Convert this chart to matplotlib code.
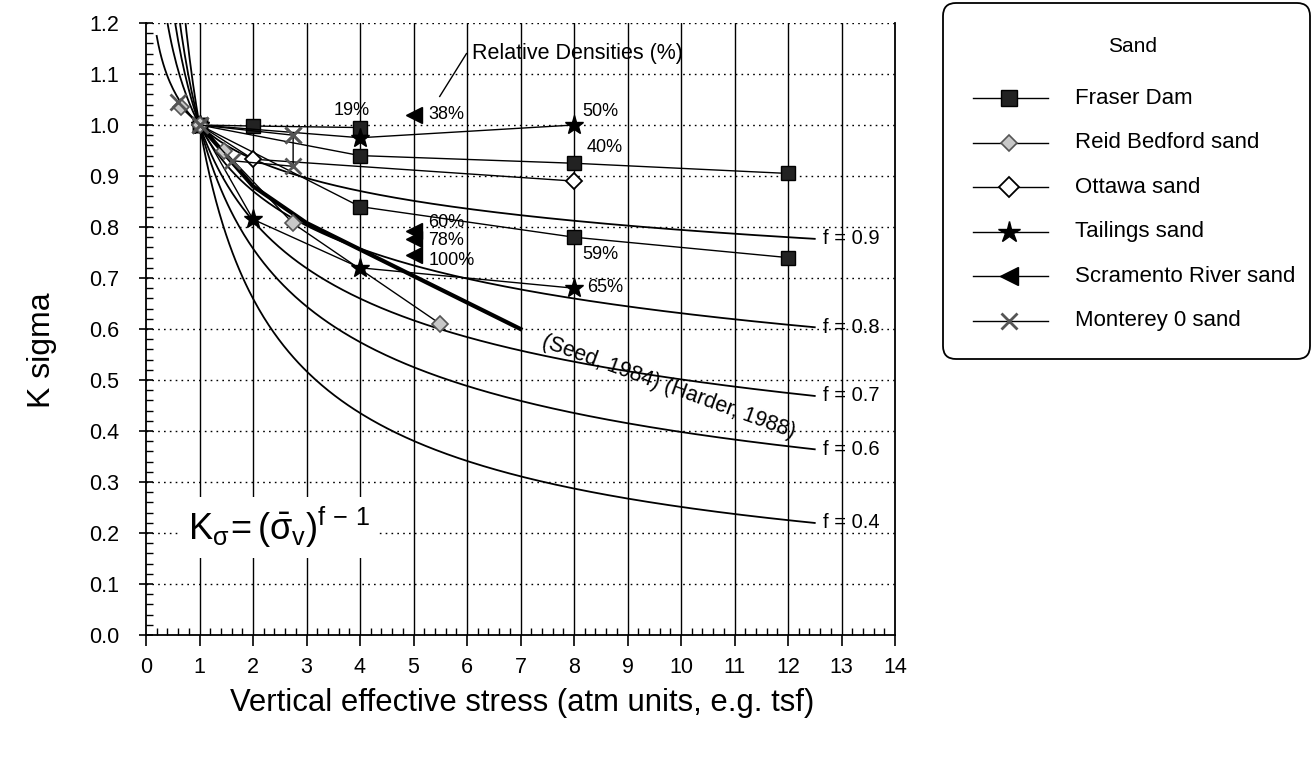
import numpy as np
import matplotlib.pyplot as plt
from matplotlib.patches import FancyBboxPatch
from matplotlib.ticker import MultipleLocator

plt.rcParams['font.family'] = ['Liberation Sans', 'DejaVu Sans']
plt.rcParams['mathtext.fontset'] = 'custom'
plt.rcParams['mathtext.rm'] = 'Liberation Sans'
plt.rcParams['mathtext.it'] = 'Liberation Sans'

# reference curves K = sigma^(f-1)
f_values = [0.9, 0.8, 0.7, 0.6, 0.4]
curve_start = 0.2
curve_end = 12.5

# Fraser Dam (relative densities 19 %, 40 %, 59 %)
fraser_19_x = [1, 2, 4]
fraser_19_y = [1.0, 0.998, 0.995]
fraser_40_x = [1, 4, 8, 12]
fraser_40_y = [1.0, 0.94, 0.925, 0.905]
fraser_59_x = [1, 4, 8, 12]
fraser_59_y = [1.0, 0.84, 0.78, 0.74]

# Tailings sand (50 %, 65 %)
tail_50_x = [1, 4, 8]
tail_50_y = [1.0, 0.975, 1.0]
tail_65_x = [1, 2, 4, 8]
tail_65_y = [1.0, 0.815, 0.72, 0.68]

# Ottawa sand
ottawa_x = [1, 2, 8]
ottawa_y = [1.0, 0.933, 0.89]

# Reid Bedford sand
reid_x = [0.65, 1, 1.45, 2.75, 5.5]
reid_y = [1.035, 1.0, 0.95, 0.807, 0.61]

# Monterey 0 sand
monterey_a_x = [0.6, 1, 2.75]
monterey_a_y = [1.045, 1.0, 0.98]
monterey_b_x = [1, 1.6, 2.75, 2.75]
monterey_b_y = [1.0, 0.93, 0.919, 0.98]

# Scramento River sand (38, 60, 78, 100 %)
sacr_x = [5, 5, 5, 5]
sacr_y = [1.02, 0.792, 0.777, 0.745]

# Seed (1984) design line
seed_x = [1, 2, 3, 4, 5, 6, 7]
seed_y = [1.0, 0.88, 0.808, 0.756, 0.704, 0.652, 0.60]

# relative density labels: (text, x, y, alignment)
density_labels = [
    ("19%", 3.85, 1.028, 'center'),
    ("38%", 5.28, 1.021, 'left'),
    ("50%", 8.16, 1.026, 'left'),
    ("40%", 8.24, 0.955, 'left'),
    ("60%", 5.28, 0.808, 'left'),
    ("78%", 5.28, 0.773, 'left'),
    ("100%", 5.28, 0.735, 'left'),
    ("59%", 8.15, 0.747, 'left'),
    ("65%", 8.24, 0.682, 'left'),
]

fig = plt.figure(figsize=(13.13, 7.65), dpi=100)
ax = fig.add_axes([146 / 1313, 1 - 635 / 765, 749 / 1313, 612 / 765])

ax.set_xlim(0, 14)
ax.set_ylim(0, 1.2)

# grid: solid verticals, dotted horizontals
for xv in range(1, 14):
    ax.axvline(xv, color='black', lw=1.0, zorder=1)
for yv in np.arange(0.1, 1.21, 0.1):
    ax.axhline(yv, color='black', lw=1.0, ls=(0, (1.2, 3.0)), zorder=1)

sig = np.linspace(curve_start, curve_end, 400)
for f in f_values:
    ax.plot(sig, sig ** (f - 1), color='black', lw=1.3, zorder=2)
    ax.text(curve_end + 0.15, curve_end ** (f - 1), f"f = {f}",
            fontsize=14.5, va='center', ha='left', zorder=4)

ax.plot(seed_x, seed_y, color='black', lw=3.0, zorder=3)

line_kw = dict(color='black', lw=1.0, zorder=3)
sq = dict(marker='s', ms=9.5, mfc='#222222', mec='black')
ax.plot(fraser_19_x, fraser_19_y, **line_kw, **sq)
ax.plot(fraser_40_x, fraser_40_y, **line_kw, **sq)
ax.plot(fraser_59_x, fraser_59_y, **line_kw, **sq)

st = dict(marker='*', ms=14, mfc='black', mec='black')
ax.plot(tail_50_x, tail_50_y, **line_kw, **st)
ax.plot(tail_65_x, tail_65_y, **line_kw, **st)

ot = dict(marker='D', ms=8, mfc='white', mec='black', mew=1.3)
rb = dict(marker='D', ms=8, mfc='#c8c8c8', mec='#555555', mew=1.2)
mo = dict(marker='x', ms=11, mec='#555555', mew=2.0)
sc = dict(marker='<', ms=11, mfc='black', mec='black')
ax.plot(ottawa_x, ottawa_y, **line_kw, **ot)
ax.plot(reid_x, reid_y, **line_kw, **rb)
ax.plot(monterey_a_x, monterey_a_y, **line_kw, **mo)
ax.plot(monterey_b_x, monterey_b_y, **line_kw, **mo)
ax.plot(sacr_x, sacr_y, ls='none', zorder=3, **sc)

for txt, x, y, ha in density_labels:
    ax.text(x, y, txt, fontsize=13, ha=ha, va='center', zorder=4)

ax.text(6.1, 1.141, "Relative Densities (%)", fontsize=15.5, ha='left',
        va='center', zorder=4)
ax.plot([5.99, 5.49], [1.14, 1.056], color='black', lw=1.0, zorder=4)

ax.text(9.76, 0.486, "(Seed, 1984) (Harder, 1988)", fontsize=15.5,
        rotation=-20, rotation_mode='anchor', ha='center', va='center',
        zorder=4)

ax.text(2.49, 0.211, r"$\mathrm{K}_{\sigma}\!= (\bar{\sigma}_{\mathrm{v}})^{\mathrm{f\,-\,1}}$",
        fontsize=26, ha='center', va='center', zorder=5,
        bbox=dict(facecolor='white', edgecolor='none', pad=6))

# axes frame and ticks
ax.spines['top'].set_visible(False)
for s in ('left', 'bottom', 'right'):
    ax.spines[s].set_linewidth(1.3)
ax.xaxis.set_major_locator(MultipleLocator(1))
ax.xaxis.set_minor_locator(MultipleLocator(0.2))
ax.yaxis.set_major_locator(MultipleLocator(0.1))
ax.yaxis.set_minor_locator(MultipleLocator(0.02))
ax.yaxis.set_major_formatter(plt.FuncFormatter(lambda v, p: f"{v:.1f}"))
ax.tick_params(axis='x', which='major', direction='out', length=8,
               width=1.2, labelsize=15.5, pad=8)
ax.tick_params(axis='y', which='major', direction='inout', length=10,
               width=1.2, labelsize=15.5, pad=14)
ax.tick_params(which='minor', direction='in', length=5, width=1.0)

fig.text(522 / 1313, 1 - 703 / 765,
         "Vertical effective stress (atm units, e.g. tsf)",
         fontsize=22.3, ha='center', va='center')
fig.text(42 / 1313, 1 - 350 / 765, "K sigma", fontsize=23,
         rotation=90, ha='center', va='center')

# legend panel
lax = fig.add_axes([0, 0, 1, 1], facecolor='none')
lax.set_xlim(0, 1313)
lax.set_ylim(765, 0)
lax.axis('off')
lax.add_patch(FancyBboxPatch((956, 16), 341, 330,
                             boxstyle="round,pad=13", fc='white',
                             ec='black', lw=1.3))
lax.text(1133, 46, "Sand", fontsize=15, ha='center', va='center')

legend_items = [
    ("Fraser Dam", dict(sq, ms=12)),
    ("Reid Bedford sand", rb),
    ("Ottawa sand", dict(ot, ms=10)),
    ("Tailings sand", dict(st, ms=16)),
    ("Scramento River sand", dict(sc, ms=13)),
    ("Monterey 0 sand", mo),
]
for i, (name, mk) in enumerate(legend_items):
    yy = 98 + i * 44.5
    lax.plot([973, 1048], [yy, yy], color='black', lw=1.0)
    lax.plot([1009], [yy], ls='none', **mk)
    lax.text(1075, yy, name, fontsize=16, ha='left', va='center')

fig.savefig("out.png", dpi=100)
